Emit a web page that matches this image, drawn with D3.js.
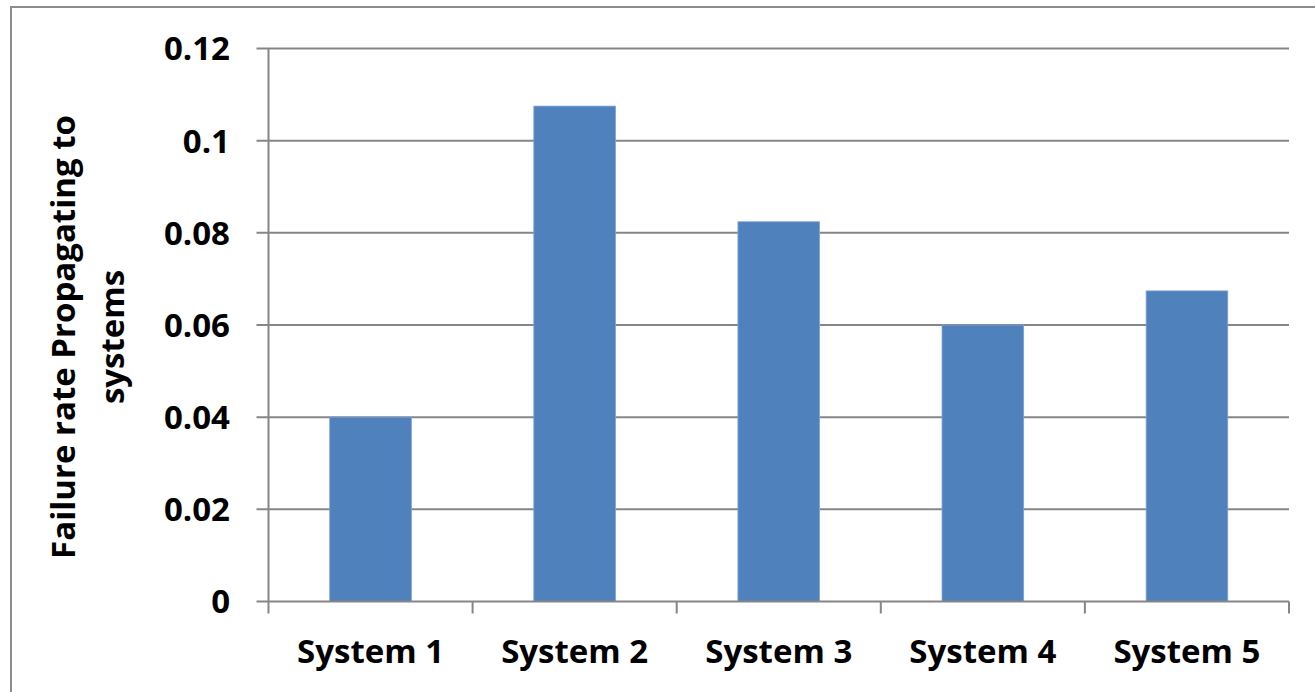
<!DOCTYPE html>
<html>
<head>
<meta charset="utf-8">
<script src="https://cdn.jsdelivr.net/npm/d3@7"></script>
<style>
  html, body { margin: 0; padding: 0; background: #fff; }
  svg { display: block; }
  text { font-family: "Open Sans", Lato, sans-serif; font-weight: bold; fill: #000; }
</style>
</head>
<body>
<svg id="chart" width="1315" height="692"></svg>
<script>
const categories = ["System 1", "System 2", "System 3", "System 4", "System 5"];
const values = [0.040, 0.1075, 0.0824, 0.060, 0.0674];
const yTicks = [0, 0.02, 0.04, 0.06, 0.08, 0.1, 0.12];
const yTickLabels = ["0", "0.02", "0.04", "0.06", "0.08", "0.1", "0.12"];
const yTitleLines = ["Failure rate Propagating to", "systems"];

(function () {
const svg = d3.select("#chart");
const W = 1315, H = 692;
const pLeft = 268.5, pRight = 1289, pTop = 48.5, pBottom = 601.5;
const fs = 33;

// outer border
svg.append("rect")
  .attr("x", 11).attr("y", 7)
  .attr("width", W + 20).attr("height", H + 20)
  .attr("fill", "#fff").attr("stroke", "#8c8c8c").attr("stroke-width", 2);

const x = d3.scaleBand().domain(categories).range([pLeft, pRight]).paddingInner(0).paddingOuter(0);
const y = d3.scaleLinear().domain([0, 0.12]).range([pBottom, pTop]);

// gridlines (including tick stubs to the left)
svg.append("g").selectAll("line").data(yTicks.filter(d => d > 0)).join("line")
  .attr("x1", pLeft - 12).attr("x2", pRight)
  .attr("y1", d => y(d)).attr("y2", d => y(d))
  .attr("stroke", "#868686").attr("stroke-width", 2);

// bars
const barW = x.step() * 0.4;
svg.append("g").selectAll("rect").data(values).join("rect")
  .attr("x", (d, i) => x(categories[i]) + x.step() / 2 - barW / 2)
  .attr("y", d => y(d))
  .attr("width", barW)
  .attr("height", d => y(0) - y(d))
  .attr("fill", "#4F81BD")
  .attr("stroke", "#7FA3D3").attr("stroke-width", 0.8);

// y axis line
svg.append("line")
  .attr("x1", pLeft).attr("x2", pLeft).attr("y1", pTop).attr("y2", pBottom)
  .attr("stroke", "#868686").attr("stroke-width", 2);
// x axis line with zero tick stub
svg.append("line")
  .attr("x1", pLeft - 12).attr("x2", pRight).attr("y1", pBottom).attr("y2", pBottom)
  .attr("stroke", "#868686").attr("stroke-width", 2);
// category boundary ticks
const bounds = categories.map(c => x(c)).concat([pRight]);
svg.append("g").selectAll("line").data(bounds).join("line")
  .attr("x1", d => d).attr("x2", d => d)
  .attr("y1", pBottom).attr("y2", pBottom + 12)
  .attr("stroke", "#868686").attr("stroke-width", 2);

// y tick labels
svg.append("g").selectAll("text").data(yTicks).join("text")
  .attr("x", 230).attr("y", d => y(d))
  .attr("dy", "0.36em")
  .attr("text-anchor", "end")
  .style("font-size", fs + "px")
  .text((d, i) => yTickLabels[i]);

// x labels
svg.append("g").selectAll("text").data(categories).join("text")
  .attr("x", d => x(d) + x.step() / 2)
  .attr("y", 663)
  .attr("text-anchor", "middle")
  .style("font-size", fs + "px")
  .text(d => d);

// y title
const tg = svg.append("g").attr("transform", "translate(88,337) rotate(-90)");
tg.selectAll("text").data(yTitleLines).join("text")
  .attr("x", 0)
  .attr("y", (d, i) => (i - 0.5) * 49)
  .attr("dy", "0.36em")
  .attr("text-anchor", "middle")
  .style("font-size", fs + "px")
  .text(d => d);
})();
</script>
</body>
</html>
